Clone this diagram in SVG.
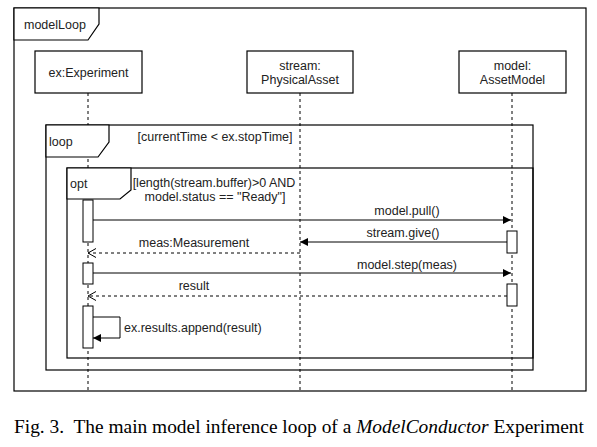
<svg xmlns="http://www.w3.org/2000/svg" width="597" height="447" viewBox="0 0 597 447">
<style>
.frame{fill:none;stroke:#000;stroke-width:1.2}
.tab{fill:#fff;stroke:#000;stroke-width:1.2}
.box{fill:#fff;stroke:#000;stroke-width:1.2}
.life{stroke:#000;stroke-width:1;stroke-dasharray:3,3;fill:none}
.msg{stroke:#000;stroke-width:1;fill:none}
.ret{stroke:#000;stroke-width:1;stroke-dasharray:3,3;fill:none}
.act{fill:#fff;stroke:#000;stroke-width:1}
text{font-family:"Liberation Sans",Arial,sans-serif;font-size:12.5px;fill:#222}
.c{text-anchor:middle}
.cap{font-family:"Liberation Serif","Times New Roman",serif;font-size:19.4px;fill:#000}
</style>
<defs>
<marker id="fill" markerWidth="9" markerHeight="8" refX="8" refY="4" orient="auto" markerUnits="userSpaceOnUse">
<path d="M0,0 L8,4 L0,8 Z" fill="#000"/>
</marker>
<marker id="open" markerWidth="10" markerHeight="10" refX="9" refY="5" orient="auto" markerUnits="userSpaceOnUse">
<path d="M1,0.5 L9,5 L1,9.5" fill="none" stroke="#000" stroke-width="1"/>
</marker>
</defs>

<g id="frame-modelLoop">
<rect class="frame" x="14" y="8" width="572" height="383"/>
<path class="tab" d="M14,8 L14,40 L88,40 L99,24 L99,8 Z"/>
<text x="24" y="29">modelLoop</text>
</g>

<g id="frame-loop-box">
<rect class="frame" x="46" y="125" width="487" height="245"/>
<text class="c" x="215" y="141">[currentTime &lt; ex.stopTime]</text>
</g>

<g id="frame-opt-box">
<rect class="frame" x="67" y="168" width="466" height="190"/>
<text class="c" x="214" y="187">[length(stream.buffer)&gt;0 AND</text>
<text class="c" x="215" y="201">model.status == "Ready"]</text>
</g>

<g id="lifelines">
<line class="life" x1="88" y1="93" x2="88" y2="391"/>
<line class="life" x1="300" y1="93" x2="300" y2="391"/>
<line class="life" x1="512" y1="93" x2="512" y2="391"/>
</g>

<g id="frame-loop">
<path class="tab" d="M46,125 L46,157 L98,157 L109,142 L109,125 Z"/>
<text x="49" y="146">loop</text>
</g>

<g id="frame-opt">
<path class="tab" d="M67,168 L67,199 L120,199 L131,190 L131,168 Z"/>
<text x="70" y="188">opt</text>
</g>

<g id="node-experiment">
<rect class="box" x="35" y="51" width="107" height="42"/>
<text class="c" x="88.5" y="76.5">ex:Experiment</text>
</g>
<g id="node-stream">
<rect class="box" x="247" y="51" width="106" height="42"/>
<text class="c" x="300" y="70">stream:</text>
<text class="c" x="300" y="84">PhysicalAsset</text>
</g>
<g id="node-model">
<rect class="box" x="459" y="51" width="107" height="42"/>
<text class="c" x="512.5" y="70">model:</text>
<text class="c" x="512.5" y="84">AssetModel</text>
</g>

<g id="activations">
<rect class="act" x="83" y="200" width="10" height="42"/>
<rect class="act" x="83" y="263" width="10" height="21"/>
<rect class="act" x="83" y="306" width="10" height="42"/>
<rect class="act" x="507" y="231" width="10" height="22"/>
<rect class="act" x="507" y="284" width="10" height="22"/>
</g>

<g id="connectors">
<line class="msg" x1="93" y1="220" x2="511" y2="220" marker-end="url(#fill)"/>
<text class="c" x="407" y="215">model.pull()</text>
<line class="msg" x1="507" y1="242" x2="300" y2="242" marker-end="url(#fill)"/>
<text class="c" x="403" y="237">stream.give()</text>
<line class="ret" x1="300" y1="253" x2="88" y2="253" marker-end="url(#open)"/>
<text class="c" x="194" y="247">meas:Measurement</text>
<line class="msg" x1="93" y1="273" x2="511" y2="273" marker-end="url(#fill)"/>
<text class="c" x="407" y="269">model.step(meas)</text>
<line class="ret" x1="507" y1="296" x2="88" y2="296" marker-end="url(#open)"/>
<text class="c" x="194" y="290">result</text>
<path class="msg" d="M93,317 L120,317 L120,338 L93,338" marker-end="url(#fill)"/>
<text x="124" y="332">ex.results.append(result)</text>
</g>

<text class="cap" x="14" y="433" xml:space="preserve">Fig. 3.  The main model inference loop of a <tspan font-style="italic">ModelConductor</tspan> Experiment</text>
</svg>
